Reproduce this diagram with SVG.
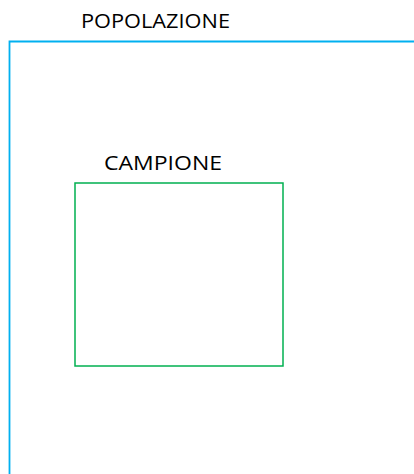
<svg xmlns="http://www.w3.org/2000/svg" width="414" height="474" viewBox="0 0 414 474">
<style>
text { font-family: "Open Sans", "Liberation Sans", sans-serif; font-size: 20px; fill: #000; }
</style>
<rect width="414" height="474" fill="#fff"/>
<g id="popolazione">
<polyline points="9.5,474 9.5,41.5 414,41.5" fill="none" stroke="#00B0F0" stroke-width="1.8"/>
<text x="81" y="28" textLength="149" lengthAdjust="spacingAndGlyphs">POPOLAZIONE</text>
</g>
<g id="campione">
<rect x="75" y="183" width="208" height="183" fill="none" stroke="#00B050" stroke-width="1.5"/>
<text x="104" y="170" textLength="118" lengthAdjust="spacingAndGlyphs">CAMPIONE</text>
</g>
<g id="connectors"></g>
</svg>
